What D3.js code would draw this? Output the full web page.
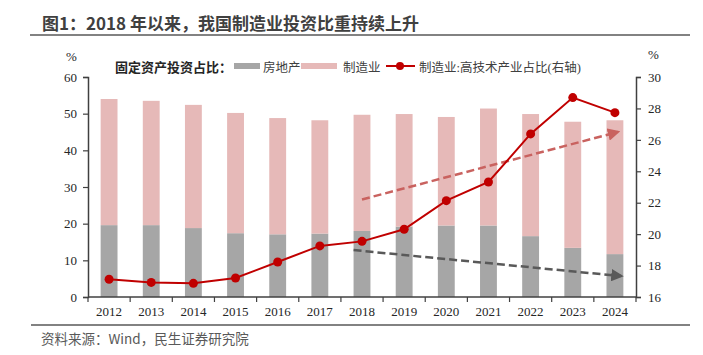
<!DOCTYPE html>
<html><head><meta charset="utf-8">
<script src="https://cdn.jsdelivr.net/npm/d3@7"></script>
<style>body{margin:0;background:#fff}svg{display:block}</style>
</head><body>
<script>
const years = ["2012","2013","2014","2015","2016","2017","2018","2019","2020","2021","2022","2023","2024"];
const realEstate = [19.6,19.6,18.8,17.4,17.1,17.3,18.0,19.2,19.5,19.5,16.6,13.4,11.7];
const manufacturing = [34.4,33.9,33.6,32.8,31.7,30.9,31.7,30.7,29.6,31.9,33.3,34.4,36.5];
const hiTechShare = [17.13,16.93,16.87,17.21,18.23,19.25,19.54,20.31,22.13,23.32,26.38,28.69,27.73];
const leftTicks = [0,10,20,30,40,50,60];
const rightTicks = [16,18,20,22,24,26,28,30];
// trend arrows (left-axis values)
const arrowUp = {from:"2018", fromV:26.6, fromOff:0.5, to:"2024", toV:45.0, toOff:0.43};
const arrowDown = {from:"2018", fromV:12.8, fromOff:0.3, to:"2024", toV:5.7, toOff:0.35};

const W=703,H=355;
const svg=d3.select("body").append("svg").attr("width",W).attr("height",H);
const L=88,R=636,T=77,B=297;
const x=d3.scaleBand().domain(years).range([L,R]).paddingInner(0.6).paddingOuter(0.3);
const yL=d3.scaleLinear().domain([0,60]).range([B,T]);
const yR=d3.scaleLinear().domain([16,30]).range([B,T]);
const serif="'Liberation Serif','Times New Roman','Noto Sans CJK SC',serif";
const sans="'Noto Sans CJK SC','Microsoft YaHei',sans-serif";
const axisCol="#404040";

// title
svg.append("text").attr("x",42).attr("y",30).attr("font-family",sans).attr("font-weight","bold")
 .attr("font-size",17).attr("fill","#404040").text("图1：2018 年以来，我国制造业投资比重持续上升");
svg.append("line").attr("x1",30).attr("x2",690).attr("y1",35).attr("y2",35).attr("stroke","#595959").attr("stroke-width",1.5);
// bottom rule + source
svg.append("line").attr("x1",31).attr("x2",690).attr("y1",325).attr("y2",325).attr("stroke","#595959").attr("stroke-width",1.5);
svg.append("text").attr("x",41).attr("y",344).attr("font-family",sans).attr("font-size",13.5).attr("fill","#595959").text("资料来源：Wind，民生证券研究院");

// bars
const stack=years.map((yr,i)=>({yr,re:realEstate[i],mf:manufacturing[i]}));
const g=svg.append("g");
g.selectAll("rect.re").data(stack).join("rect").attr("x",d=>x(d.yr)).attr("width",x.bandwidth())
 .attr("y",d=>yL(d.re)).attr("height",d=>yL(0)-yL(d.re)).attr("fill","#a6a6a6");
g.selectAll("rect.mf").data(stack).join("rect").attr("x",d=>x(d.yr)).attr("width",x.bandwidth())
 .attr("y",d=>yL(d.re+d.mf)).attr("height",d=>yL(d.re)-yL(d.re+d.mf)).attr("fill","#e6b9b8");

// arrows
const defs=svg.append("defs");
function marker(id,col){defs.append("marker").attr("id",id).attr("viewBox","0 0 10 10").attr("refX",8).attr("refY",5)
 .attr("markerWidth",5).attr("markerHeight",5).attr("orient","auto").attr("markerUnits","strokeWidth")
 .append("path").attr("d","M0,0L10,5L0,10z").attr("fill",col);}
marker("ahR","#c9625f");marker("ahG","#595959");
function arrow(a,col,id){
 const step=x.step();
 svg.append("line").attr("x1",x(a.from)+x.bandwidth()/2+(a.fromOff-0.5)*step).attr("y1",yL(a.fromV))
  .attr("x2",x(a.to)+x.bandwidth()/2-(a.toOff-0.5)*step).attr("y2",yL(a.toV))
  .attr("stroke",col).attr("stroke-width",2.5).attr("stroke-dasharray","8,4").attr("marker-end",`url(#${id})`);
}
arrow(arrowUp,"#c9625f","ahR");
arrow(arrowDown,"#595959","ahG");

// line
const line=d3.line().x((d,i)=>x(years[i])+x.bandwidth()/2).y(d=>yR(d));
svg.append("path").attr("d",line(hiTechShare)).attr("fill","none").attr("stroke","#c00000").attr("stroke-width",2);
svg.selectAll("circle.pt").data(hiTechShare).join("circle").attr("cx",(d,i)=>x(years[i])+x.bandwidth()/2)
 .attr("cy",d=>yR(d)).attr("r",4.5).attr("fill","#c00000");

// axes
const axL=svg.append("g").attr("transform",`translate(${L},0)`).call(d3.axisLeft(yL).tickValues(leftTicks).tickSize(5).tickPadding(6));
const axR=svg.append("g").attr("transform",`translate(${R},0)`).call(d3.axisRight(yR).tickValues(rightTicks).tickSize(5).tickPadding(7));
const axB=svg.append("g").attr("transform",`translate(0,${B})`).call(d3.axisBottom(x).tickSize(0).tickPadding(10));
[axL,axR,axB].forEach(a=>{a.select(".domain").attr("stroke",axisCol).attr("stroke-width",1.5);
 a.selectAll(".tick line").attr("stroke",axisCol).attr("stroke-width",1.2);
 a.selectAll("text").attr("font-family",serif).attr("font-size",13).attr("fill","#262626");});
axB.select(".domain").attr("d",`M${L},0H${R}`);
// category boundary ticks
axB.selectAll("line.bt").data(d3.range(years.length+1)).join("line").attr("class","bt")
 .attr("x1",i=>L+x.step()*(i+x.paddingOuter()-x.paddingInner()/2)).attr("x2",i=>L+x.step()*(i+x.paddingOuter()-x.paddingInner()/2))
 .attr("y1",0).attr("y2",5).attr("stroke",axisCol).attr("stroke-width",1.2);
svg.append("text").attr("x",66).attr("y",61).attr("font-family",serif).attr("font-size",13).attr("fill","#262626").text("%");
svg.append("text").attr("x",648).attr("y",59).attr("font-family",serif).attr("font-size",13).attr("fill","#262626").text("%");

// legend
const lg=svg.append("g");
lg.append("text").attr("x",115).attr("y",72).attr("font-family",sans).attr("font-weight","bold").attr("font-size",13).attr("fill","#262626").text("固定资产投资占比：");
lg.append("rect").attr("x",234).attr("y",63).attr("width",26).attr("height",6).attr("fill","#a6a6a6");
lg.append("text").attr("x",263).attr("y",72).attr("font-family",serif).attr("font-size",12.5).attr("fill","#404040").text("房地产");
lg.append("rect").attr("x",301).attr("y",63).attr("width",36).attr("height",6).attr("fill","#e6b9b8");
lg.append("text").attr("x",343).attr("y",72).attr("font-family",serif).attr("font-size",12.5).attr("fill","#404040").text("制造业");
lg.append("line").attr("x1",386).attr("x2",415).attr("y1",66).attr("y2",66).attr("stroke","#c00000").attr("stroke-width",2);
lg.append("circle").attr("cx",400).attr("cy",66).attr("r",4).attr("fill","#c00000");
lg.append("text").attr("x",419).attr("y",72).attr("font-family",serif).attr("font-size",12.5).attr("fill","#404040").text("制造业:高技术产业占比(右轴)");
</script>
</body></html>
